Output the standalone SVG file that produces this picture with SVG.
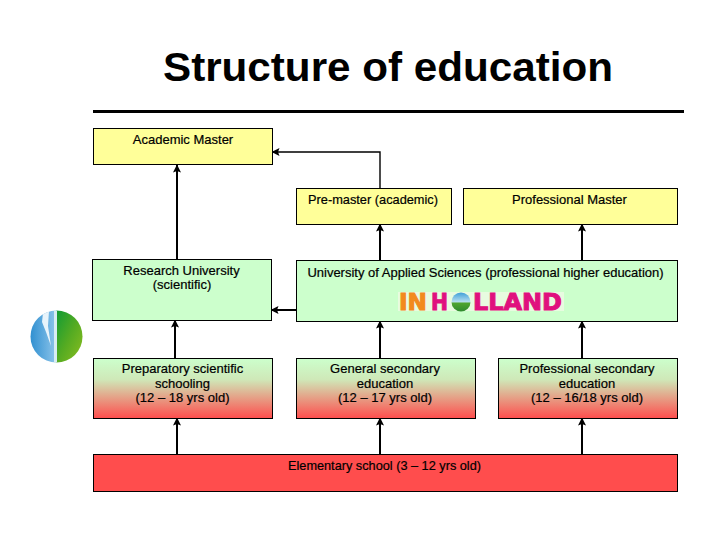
<svg xmlns="http://www.w3.org/2000/svg" width="720" height="540" viewBox="0 0 720 540">
<style>
.n{stroke:#000;stroke-width:1}
.y{fill:#ffff99}
.g{fill:#ccffcc}
.t{font-family:"Liberation Sans",Arial,sans-serif;font-size:13px;fill:#000;text-anchor:middle;stroke:#000;stroke-width:.2px}
.c{fill:none;stroke:#000;stroke-width:2}
.c1{fill:none;stroke:#000;stroke-width:1.4}
.logo{font-family:"DejaVu Sans",sans-serif;font-weight:bold;font-size:23px;stroke-width:1px}
</style>
<defs>
<marker id="a" markerUnits="userSpaceOnUse" markerWidth="9" markerHeight="9" refX="7.5" refY="4" orient="auto"><path d="M0 0L8 4L0 8L1.500 4Z" fill="#000"/></marker>
<linearGradient id="gr" x1="0" y1="0" x2="0" y2="1"><stop offset="0" stop-color="#ccffcc"/><stop offset=".35" stop-color="#cfe8b8"/><stop offset="1" stop-color="#ff4d4d"/></linearGradient>
<linearGradient id="blue" x1="0" y1="0" x2="1" y2="0"><stop offset="0" stop-color="#2f8fd0"/><stop offset="1" stop-color="#8cc4ea"/></linearGradient>
<linearGradient id="green" x1="0" y1="0" x2="1" y2="1"><stop offset="0" stop-color="#0f9a35"/><stop offset=".5" stop-color="#55ab22"/><stop offset="1" stop-color="#8fbf1f"/></linearGradient>
<linearGradient id="ball" x1="0" y1="0" x2="0" y2="1"><stop offset="0" stop-color="#3f9fd8"/><stop offset=".5" stop-color="#b8dff0"/><stop offset=".55" stop-color="#4fa52f"/><stop offset="1" stop-color="#2f8a2f"/></linearGradient>
<clipPath id="cl"><circle cx="56.500" cy="336.500" r="26"/></clipPath>
</defs>
<rect width="720" height="540" fill="#fff"/>
<text x="388" y="81" font-family="'Liberation Sans',Arial,sans-serif" font-weight="bold" font-size="41" text-anchor="middle" fill="#000" textLength="450" lengthAdjust="spacingAndGlyphs">Structure of education</text>
<rect x="93" y="110" width="591" height="3" fill="#000"/>
<g id="emblem" clip-path="url(#cl)">
<rect x="30" y="310" width="26" height="54" fill="url(#blue)"/>
<rect x="56" y="310" width="27" height="54" fill="url(#green)"/>
<path d="M43 313L49 311L48 326L51 346L46 332L42 322Z" fill="#e8f4fb"/>
<rect x="54" y="310" width="3" height="54" fill="#d8ecf2"/>
</g>
<g id="connectors">
<path class="c" d="M177 259V165" marker-end="url(#a)"/>
<path class="c1" d="M380 188V152H272" marker-end="url(#a)"/>
<path class="c" d="M380 260V224" marker-end="url(#a)"/>
<path class="c" d="M582 260V224" marker-end="url(#a)"/>
<path class="c" d="M296 310H271" marker-end="url(#a)"/>
<path class="c" d="M175 358V320" marker-end="url(#a)"/>
<path class="c" d="M380 358V321" marker-end="url(#a)"/>
<path class="c" d="M582 358V321" marker-end="url(#a)"/>
<path class="c" d="M177 454V418" marker-end="url(#a)"/>
<path class="c" d="M380 454V418" marker-end="url(#a)"/>
<path class="c" d="M582 454V418" marker-end="url(#a)"/>
</g>
<g id="academic-master"><rect class="n y" x="93.500" y="128.500" width="179" height="36"/><text class="t" x="183" y="144">Academic Master</text></g>
<g id="pre-master"><rect class="n y" x="296.500" y="188.500" width="155" height="36"/><text class="t" x="373" y="204" textLength="130" lengthAdjust="spacingAndGlyphs">Pre-master (academic)</text></g>
<g id="professional-master"><rect class="n y" x="463.500" y="188.500" width="214" height="36"/><text class="t" x="569.500" y="204">Professional Master</text></g>
<g id="research-university"><rect class="n g" x="92.500" y="259.500" width="179" height="61"/><text class="t" x="181.500" y="275">Research University</text><text class="t" x="182" y="289">(scientific)</text></g>
<g id="applied-sciences"><rect class="n g" x="296.500" y="260.500" width="381" height="61"/><text class="t" x="485.500" y="277">University of Applied Sciences (professional higher education)</text>
<g id="inholland-logo">
<rect x="398" y="292" width="166" height="19" fill="#e8fbe0"/>
<text class="logo" x="399" y="310" fill="#f28a1e" stroke="#f28a1e" textLength="28" lengthAdjust="spacingAndGlyphs">IN</text>
<text class="logo" x="431" y="310" fill="#e0107e" stroke="#e0107e" textLength="17" lengthAdjust="spacingAndGlyphs">H</text>
<circle cx="461" cy="302" r="9.500" fill="url(#ball)"/>
<text class="logo" x="473" y="310" fill="#e0107e" stroke="#e0107e" textLength="89" lengthAdjust="spacingAndGlyphs">LLAND</text>
</g></g>
<g id="preparatory"><rect class="n" x="93.500" y="358.500" width="179" height="60" fill="url(#gr)"/><text class="t" x="182.500" y="373">Preparatory scientific</text><text class="t" x="182.500" y="388">schooling</text><text class="t" x="182.500" y="402">(12 – 18 yrs old)</text></g>
<g id="general-secondary"><rect class="n" x="296.500" y="358.500" width="179" height="60" fill="url(#gr)"/><text class="t" x="385" y="373">General secondary</text><text class="t" x="385" y="388">education</text><text class="t" x="385" y="402">(12 – 17 yrs old)</text></g>
<g id="professional-secondary"><rect class="n" x="498.500" y="358.500" width="179" height="60" fill="url(#gr)"/><text class="t" x="587" y="373">Professional secondary</text><text class="t" x="587" y="388">education</text><text class="t" x="587" y="402">(12 – 16/18 yrs old)</text></g>
<g id="elementary"><rect class="n" x="93.500" y="454.500" width="584" height="37" fill="#ff4d4d"/><text class="t" x="384.500" y="470" textLength="193" lengthAdjust="spacingAndGlyphs">Elementary school (3 – 12 yrs old)</text></g>
</svg>
